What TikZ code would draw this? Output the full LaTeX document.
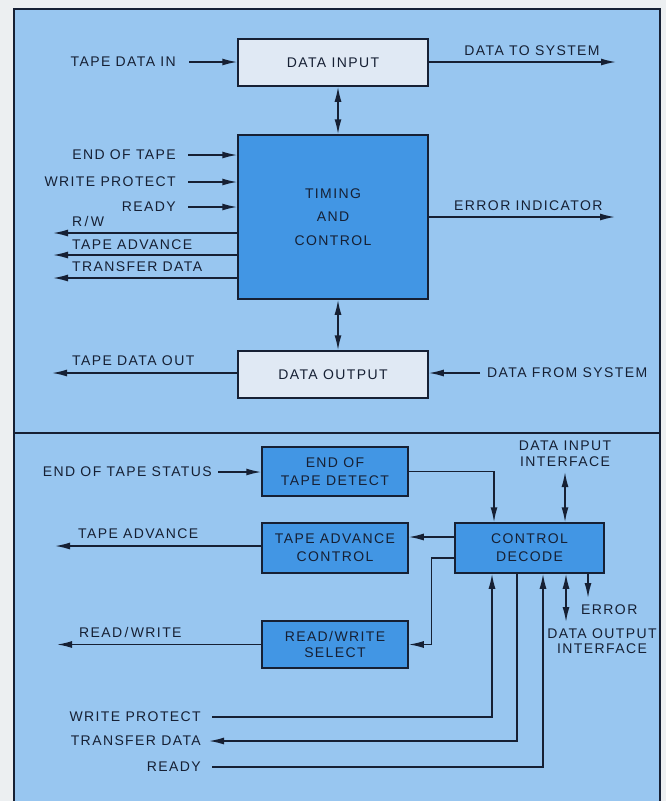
\documentclass[tikz,border=0pt]{standalone}
\usepackage{fontspec}
\setmainfont{Liberation Sans}[LetterSpace=10]
\usetikzlibrary{arrows.meta,calc}
\definecolor{paper}{RGB}{236,239,241}
\definecolor{panel}{RGB}{152,198,240}
\definecolor{darkbox}{RGB}{66,150,228}
\definecolor{lightbox}{RGB}{224,233,244}
\definecolor{ink}{RGB}{22,32,52}
\tikzset{
  lbl/.style={inner sep=0pt, text=ink, font=\fontsize{14}{16}\selectfont},
  boxd/.style={draw=ink, line width=1.5pt, fill=darkbox, text=ink, align=center, inner sep=0pt},
  boxl/.style={draw=ink, line width=1.5pt, fill=lightbox, text=ink, align=center, inner sep=0pt},
  wire/.style={draw=ink, line width=1.5pt},
  arr/.style={wire, -{Latex[length=15pt,width=7pt]}},
  arrb/.style={wire, {Latex[length=15pt,width=7pt]}-{Latex[length=15pt,width=7pt]}},
}
\begin{document}
\begin{tikzpicture}[x=1pt,y=-1pt]
\useasboundingbox (0,0) rectangle (666,801);
\fill[paper] (0,0) rectangle (666,801);
\fill[panel] (14,9) rectangle (660,801);
\draw[wire] (14,801) -- (14,9) -- (660,9) -- (660,801);
\draw[wire] (14,433) -- (660,433);

% ---------- upper panel ----------
\node[boxl, minimum width=190pt, minimum height=47pt, font=\fontsize{14}{16}\selectfont] (din) at (333,62.5) {DATA INPUT};
\node[boxd, minimum width=190pt, minimum height=164pt, font=\fontsize{14}{23.5}\selectfont] (tc) at (333,217) {TIMING\\AND\\CONTROL};
\node[boxl, minimum width=190pt, minimum height=47pt, font=\fontsize{14}{16}\selectfont] (dout) at (333,374.5) {DATA OUTPUT};

\node[lbl, anchor=east] (ltdin) at (176,62) {TAPE DATA IN};
\node[lbl] (ldts) at (532,51) {DATA TO SYSTEM};
\node[lbl, anchor=east] (leot) at (176,155) {END OF TAPE};
\node[lbl, anchor=east] (lwp) at (176,182) {WRITE PROTECT};
\node[lbl, anchor=east] (lrdy) at (176,207) {READY};
\node[lbl, anchor=west] (lrw) at (72,221) {R\,/\,W};
\node[lbl, anchor=west] (lta) at (72,245) {TAPE ADVANCE};
\node[lbl, anchor=west] (ltd) at (72,267) {TRANSFER DATA};
\node[lbl, anchor=west] (lei) at (454,206) {ERROR INDICATOR};
\node[lbl, anchor=west] (ltdo) at (72,361) {TAPE DATA OUT};
\node[lbl, anchor=west] (ldfs) at (487,373) {DATA FROM SYSTEM};

\coordinate (edts) at (616,62);
\coordinate (eei) at (615,217);
\coordinate (erw) at (53,233);
\coordinate (eta) at (53,255);
\coordinate (etd) at (53,278);
\coordinate (etdo) at (52,373);

\draw[arr] ([xshift=13pt]ltdin.east) -- (ltdin.east -| din.west);
\draw[arr] (din.east |- edts) -- (edts);
\draw[arrb] ([xshift=5pt]din.south) -- ([xshift=5pt]tc.north);
\draw[arr] ([xshift=12pt]leot.east) -- (leot.east -| tc.west);
\draw[arr] ([xshift=12pt]lwp.east) -- (lwp.east -| tc.west);
\draw[arr] ([xshift=12pt]lrdy.east) -- (lrdy.east -| tc.west);
\draw[arr] (erw -| tc.west) -- (erw);
\draw[arr] (eta -| tc.west) -- (eta);
\draw[arr] (etd -| tc.west) -- (etd);
\draw[arr] (eei -| tc.east) -- (eei);
\draw[arrb] ([xshift=5pt]tc.south) -- ([xshift=5pt]dout.north);
\draw[arr] (etdo -| dout.west) -- (etdo);
\draw[arr] ([xshift=-7pt]ldfs.west) -- (ldfs.west -| dout.east);

% ---------- lower panel ----------
\node[boxd, minimum width=146pt, minimum height=49pt, font=\fontsize{14}{18}\selectfont] (eot) at (335,471.5) {END OF\\TAPE DETECT};
\node[boxd, minimum width=146pt, minimum height=50pt, font=\fontsize{14}{18}\selectfont] (tac) at (335,548) {TAPE ADVANCE\\CONTROL};
\node[boxd, minimum width=146pt, minimum height=47pt, font=\fontsize{14}{16}\selectfont] (rws) at (335,644.5) {READ/WRITE\\SELECT};
\node[boxd, minimum width=149pt, minimum height=50pt, font=\fontsize{14}{18}\selectfont] (cd) at (529.5,548) {CONTROL\\DECODE};

\node[lbl, anchor=east] (leots) at (212,472) {END OF TAPE STATUS};
\node[lbl, anchor=west] (lta2) at (78,534) {TAPE ADVANCE};
\node[lbl, align=center, font=\fontsize{14}{16}\selectfont] (ldii) at (565,454) {DATA INPUT\\INTERFACE};
\node[lbl, anchor=west] (lrw2) at (79,632) {READ\,/\,WRITE};
\node[lbl, anchor=west] (lerr) at (581,610) {ERROR};
\node[lbl, align=center, font=\fontsize{14}{15.5}\selectfont] (ldoi) at (602,641) {DATA OUTPUT\\INTERFACE};
\node[lbl, anchor=east] (lwp2) at (201,717) {WRITE PROTECT};
\node[lbl, anchor=east] (ltd2) at (201,741) {TRANSFER DATA};
\node[lbl, anchor=east] (lrdy2) at (201,767) {READY};

\coordinate (eta2) at (55,546);
\coordinate (erw2) at (57,644.5);
\coordinate (edii) at (565,472);
\coordinate (edoi) at (566,622);
\coordinate (eerr) at (588,598);

\draw[arr] ([xshift=6pt]leots.east) -- (leots.east -| eot.west);
\draw[arr] (eot.east) -| ([xshift=-35.5pt]cd.north);
\draw[arrb] (edii) -- (edii |- cd.north);
\draw[arr] ([yshift=11pt]cd.west) -- ([yshift=11pt]tac.east);
\draw[arr] ([yshift=2pt]tac.west) -- (eta2);
\draw[arr] ([yshift=-10pt]cd.west) -- ++(-23pt,0) |- (rws.east);
\draw[arr] (rws.west) -- (erw2);
\draw[arr] ([xshift=11pt]lwp2.east) -| ([xshift=-37.5pt]cd.south);
\draw[arr] ([xshift=-12.5pt]cd.south) |- ([xshift=8pt]ltd2.east);
\draw[arr] ([xshift=11pt]lrdy2.east) -| ([xshift=13.5pt]cd.south);
\draw[arrb] (edoi |- cd.south) -- (edoi);
\draw[arr] (eerr |- cd.south) -- (eerr);
\end{tikzpicture}
\end{document}
